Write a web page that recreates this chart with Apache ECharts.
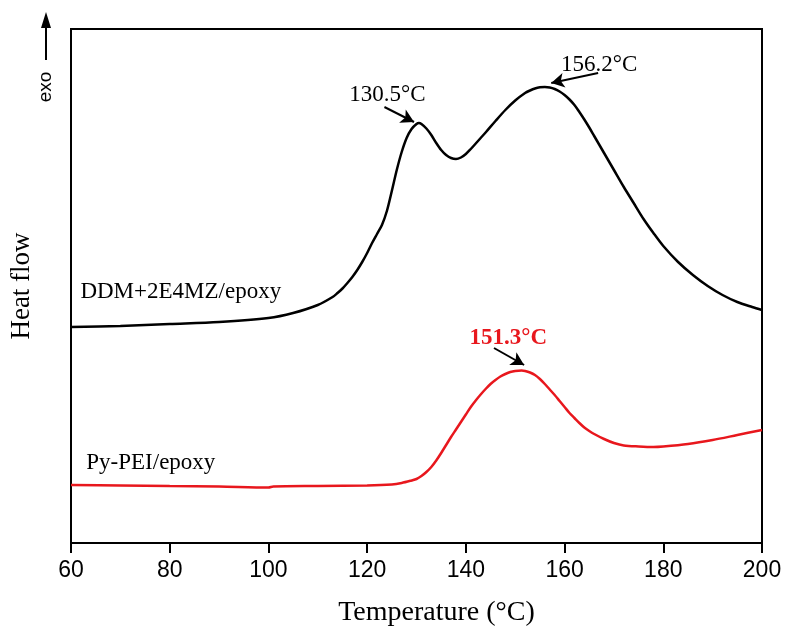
<!DOCTYPE html>
<html>
<head>
<meta charset="utf-8">
<title>DSC</title>
<script src="https://cdn.jsdelivr.net/npm/echarts@6/dist/echarts.min.js"></script>
<style>
  html, body { margin: 0; padding: 0; background: #fff; }
  #chart { width: 788px; height: 632px; }
</style>
</head>
<body>
<div id="chart"></div>
<script>
// DDM+2E4MZ/epoxy curve (temperature, heat flow in arbitrary units)
var ddmTemp = [60, 70, 80, 90, 100, 105, 110, 113, 114, 115, 116, 117, 118, 119, 120, 121, 122, 123, 124, 125, 126, 127, 128, 129, 130, 130.5, 131, 132, 133, 134, 135, 136, 137, 138, 139, 140, 141, 142, 143, 144, 146, 148, 150, 152, 153, 154, 155, 156, 157, 158, 159, 160, 161, 162, 163, 164, 165, 166, 168, 170, 172, 174, 176, 178, 180, 183, 186, 189, 192, 195, 198, 200];
var ddmFlow = [216, 217, 219, 221, 225, 230, 238, 246, 250, 254.5, 260, 266, 273, 281, 290, 300, 309, 318, 332, 352, 373, 391, 405, 414, 419, 420, 419, 414.5, 408, 400, 393, 388, 385, 384, 385.5, 389, 394, 399.5, 405, 410.5, 422, 433, 442.5, 450, 452.5, 454.5, 455.7, 456, 455.5, 454, 451.5, 448, 443.5, 438, 431, 423.5, 415.5, 407, 390, 373, 356, 340, 324, 310, 297, 281, 268, 257, 248, 241, 236, 233];

// Py-PEI/epoxy curve
var peiTemp = [60, 70, 80, 90, 100, 101, 110, 120, 125, 127, 129, 130, 131, 132, 133, 134, 135, 136, 137, 138, 139, 140, 141, 142, 143, 144, 145, 146, 147, 148, 149, 150, 151.3, 152, 153, 154, 155, 156, 157, 158, 159, 160, 161, 162, 163, 164, 165, 166, 168, 170, 172, 175, 178, 180, 185, 190, 195, 200];
var peiFlow = [58, 57.5, 57, 56.5, 55.5, 56.5, 57, 57.5, 58.5, 60, 62.5, 64, 67, 71, 76, 82.5, 90, 98, 106, 113.5, 121, 128.5, 136, 142.5, 148.5, 154, 159, 163, 166.5, 169, 171, 172, 172.5, 172, 170.5, 168, 164, 159, 153.5, 148, 142, 136, 130, 125, 120, 115.5, 112, 109, 104, 100, 97.5, 96.5, 96, 96.5, 99, 103, 108, 113];

// peak annotations: [text, text pos, arrow tail, arrow tip]
var ddmPeaks = [
  ['130.5°C', [124.1, 448], [123.5, 436], [129.5, 421]],
  ['156.2°C', [167, 478], [166.8, 470], [157.3, 460]]
];
var peiPeaks = [
  ['151.3°C', [148.6, 205], [145.7, 195], [151.8, 178]]
];

var seriesNames = ['DDM+2E4MZ/epoxy', 'Py-PEI/epoxy'];
var seriesNamePos = [[61.9, 251], [63.1, 80]];

var red = '#e8171d';
var serif = 'Liberation Serif, Times New Roman, serif';
var sans = 'Liberation Sans, Arial, sans-serif';

function zip(xs, ys) {
  return xs.map(function (x, i) { return [x, ys[i]]; });
}

function arrows(peaks) {
  return peaks.map(function (p) {
    return [{ coord: p[2] }, { coord: p[3] }];
  });
}

function peakLabels(peaks, style) {
  return peaks.map(function (p) {
    return {
      coord: p[1],
      symbol: 'circle',
      symbolSize: 0,
      label: Object.assign({ show: true, position: 'inside', formatter: p[0] }, style)
    };
  });
}

function nameLabel(i) {
  return {
    coord: seriesNamePos[i],
    symbol: 'circle',
    symbolSize: 0,
    label: { show: true, position: 'right', distance: 0, formatter: seriesNames[i], fontFamily: serif, fontSize: 23, color: '#000' }
  };
}

var chart = echarts.init(document.getElementById('chart'));

chart.setOption({
  animation: false,
  backgroundColor: '#fff',
  grid: {
    left: 69.5,
    right: 26,
    top: 29,
    bottom: 89,
    show: true,
    borderColor: '#000',
    borderWidth: 2
  },
  xAxis: {
    type: 'value',
    min: 60,
    max: 200,
    interval: 20,
    name: 'Temperature (°C)',
    nameLocation: 'middle',
    nameGap: 56,
    nameTextStyle: { fontFamily: serif, fontSize: 28, color: '#000', padding: [0, 0, 0, 40] },
    axisLine: { show: true, lineStyle: { color: '#000', width: 2 } },
    axisTick: { show: true, inside: false, length: 10, lineStyle: { color: '#000', width: 2 } },
    axisLabel: { fontFamily: sans, fontSize: 23, color: '#000', margin: 16 },
    splitLine: { show: false }
  },
  yAxis: {
    type: 'value',
    min: 0,
    max: 514,
    name: 'Heat flow',
    nameLocation: 'middle',
    nameGap: 36,
    nameTextStyle: { fontFamily: serif, fontSize: 27, color: '#000' },
    axisLine: { show: false },
    axisTick: { show: false },
    axisLabel: { show: false },
    splitLine: { show: false }
  },
  graphic: [
    {
      type: 'line',
      shape: { x1: 46, y1: 60, x2: 46, y2: 24 },
      style: { stroke: '#000', lineWidth: 2 }
    },
    {
      type: 'polygon',
      shape: { points: [[46, 12], [41, 28], [51, 28]] },
      style: { fill: '#000' }
    },
    {
      type: 'text',
      x: 46,
      y: 87,
      rotation: Math.PI / 2,
      style: {
        text: 'exo',
        fontFamily: sans,
        fontSize: 19,
        fill: '#000',
        align: 'center',
        verticalAlign: 'middle'
      }
    }
  ],
  series: [
    {
      name: seriesNames[0],
      type: 'line',
      data: zip(ddmTemp, ddmFlow),
      smooth: 0.3,
      showSymbol: false,
      lineStyle: { color: '#000', width: 2.5 },
      markLine: {
        silent: true,
        symbol: ['none', 'arrow'],
        symbolSize: [11, 13],
        label: { show: false },
        lineStyle: { color: '#000', width: 2, type: 'solid' },
        data: arrows(ddmPeaks)
      },
      markPoint: {
        silent: true,
        data: peakLabels(ddmPeaks, { fontFamily: serif, fontSize: 23, color: '#000' }).concat([nameLabel(0)])
      }
    },
    {
      name: seriesNames[1],
      type: 'line',
      data: zip(peiTemp, peiFlow),
      smooth: 0.3,
      showSymbol: false,
      lineStyle: { color: red, width: 2.5 },
      markLine: {
        silent: true,
        symbol: ['none', 'arrow'],
        symbolSize: [11, 13],
        label: { show: false },
        lineStyle: { color: '#000', width: 2, type: 'solid' },
        data: arrows(peiPeaks)
      },
      markPoint: {
        silent: true,
        data: peakLabels(peiPeaks, { fontFamily: serif, fontSize: 23, fontWeight: 'bold', color: red }).concat([nameLabel(1)])
      }
    }
  ]
});
</script>
</body>
</html>
